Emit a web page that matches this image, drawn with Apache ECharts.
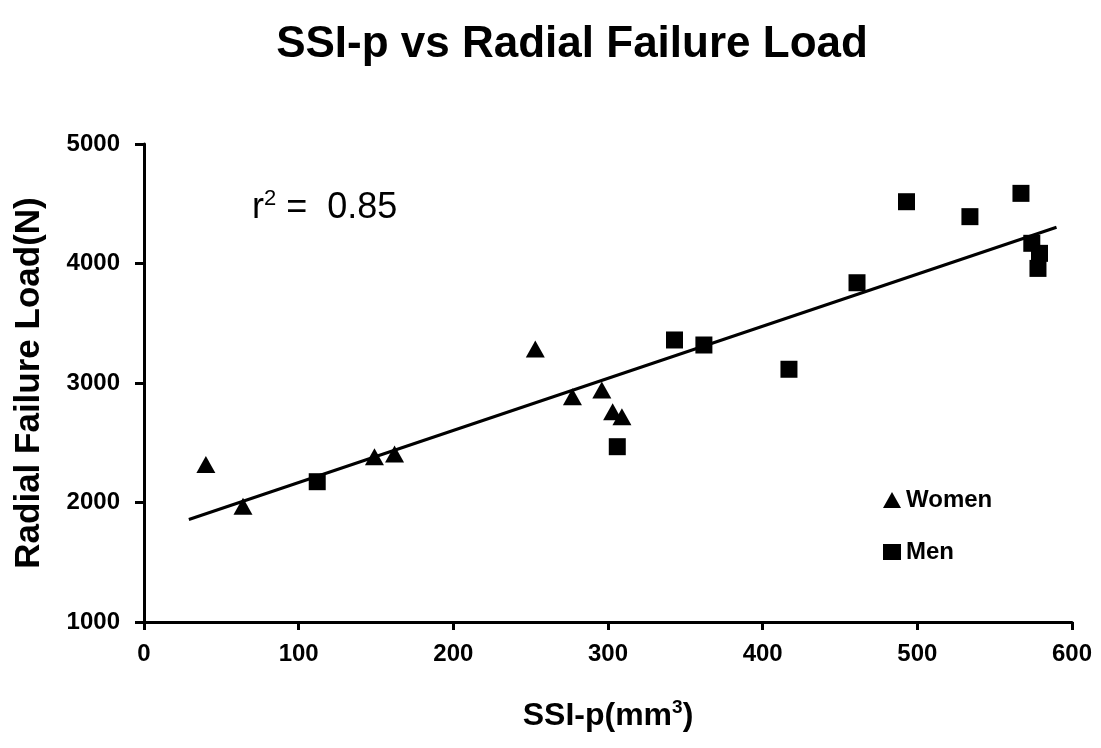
<!DOCTYPE html>
<html>
<head>
<meta charset="utf-8">
<script src="https://cdn.jsdelivr.net/npm/echarts@6/dist/echarts.min.js"></script>
<style>html,body{margin:0;padding:0;background:#fff}#c{width:1101px;height:748px}</style>
</head>
<body>
<div id="c"></div>
<script>
var women = [[40,2318],[64,1968],[149,2383],[162,2406],[253,3285],[277,2885],[296,2941],[303,2760],[309,2718]];
var men = [[112,2174],[306,2467],[343,3360],[362,3318],[417,3115],[461,3839],[493,4517],[534,4392],[567,4587],[574,4169],[579,4085],[578,3959]];
var fitLine = [[29,1858],[590,4303]];
var xTicks = [0,100,200,300,400,500,600];
var yTicks = [1000,2000,3000,4000,5000];
var r2Label = '0.85';

var font = '"Liberation Sans", Arial, sans-serif';
var chart = echarts.init(document.getElementById('c'), null, {renderer:'canvas'});
chart.setOption({
  animation:false,
  backgroundColor:'#fff',
  title:{text:'SSI-p vs Radial Failure Load', left:567, textAlign:'center', top:18,
    textStyle:{fontFamily:font, fontWeight:'bold', fontSize:44, color:'#000'}},
  grid:{left:144, right:29, top:144, bottom:126},
  legend:{orient:'vertical', left:883, top:488, padding:0, itemGap:28, itemWidth:18, itemHeight:16,
    textStyle:{fontFamily:font, fontWeight:'bold', fontSize:24, color:'#000'},
    data:[{name:'Women', icon:'triangle'},{name:'Men', icon:'rect'}]},
  xAxis:{type:'value', min:xTicks[0], max:xTicks[xTicks.length-1], interval:100,
    name:'SSI-p(mm{s|3})', nameLocation:'middle', nameGap:76,
    nameTextStyle:{fontFamily:font, fontWeight:'bold', fontSize:32, color:'#000',
      rich:{s:{fontFamily:font, fontWeight:'bold', fontSize:19, color:'#000', verticalAlign:'top', padding:[0,0,18,0]}}},
    axisLine:{lineStyle:{color:'#000', width:3}},
    axisTick:{show:true, inside:false, length:8, lineStyle:{color:'#000', width:3}},
    axisLabel:{margin:20, fontFamily:font, fontWeight:'bold', fontSize:24, color:'#000',
      formatter:function(v){return String(v);}},
    splitLine:{show:false}},
  yAxis:{type:'value', min:yTicks[0], max:yTicks[yTicks.length-1], interval:1000,
    name:'Radial Failure Load(N)', nameLocation:'middle', nameGap:97,
    nameTextStyle:{fontFamily:font, fontWeight:'bold', fontSize:35, color:'#000'},
    axisLine:{show:true, lineStyle:{color:'#000', width:3}},
    axisTick:{show:true, inside:false, length:9, lineStyle:{color:'#000', width:3}},
    axisLabel:{margin:24, fontFamily:font, fontWeight:'bold', fontSize:24, color:'#000',
      formatter:function(v){return String(v);}},
    splitLine:{show:false}},
  graphic:[{type:'text', left:252, top:188,
    style:{text:'r{s|2} =  '+r2Label, fontFamily:font, fontSize:36, fill:'#000',
      rich:{s:{fontFamily:font, fontSize:22, fill:'#000', verticalAlign:'top', padding:[0,0,18,0]}}}}],
  series:[
    {name:'Fit', type:'line', data:fitLine, symbol:'none', lineStyle:{color:'#000', width:3}, z:1},
    {name:'Women', type:'scatter', data:women, symbol:'triangle', symbolSize:[19,17], itemStyle:{color:'#000', opacity:1}, z:3},
    {name:'Men', type:'scatter', data:men, symbol:'rect', symbolSize:17, itemStyle:{color:'#000', opacity:1}, z:3}
  ]
});
</script>
</body>
</html>
